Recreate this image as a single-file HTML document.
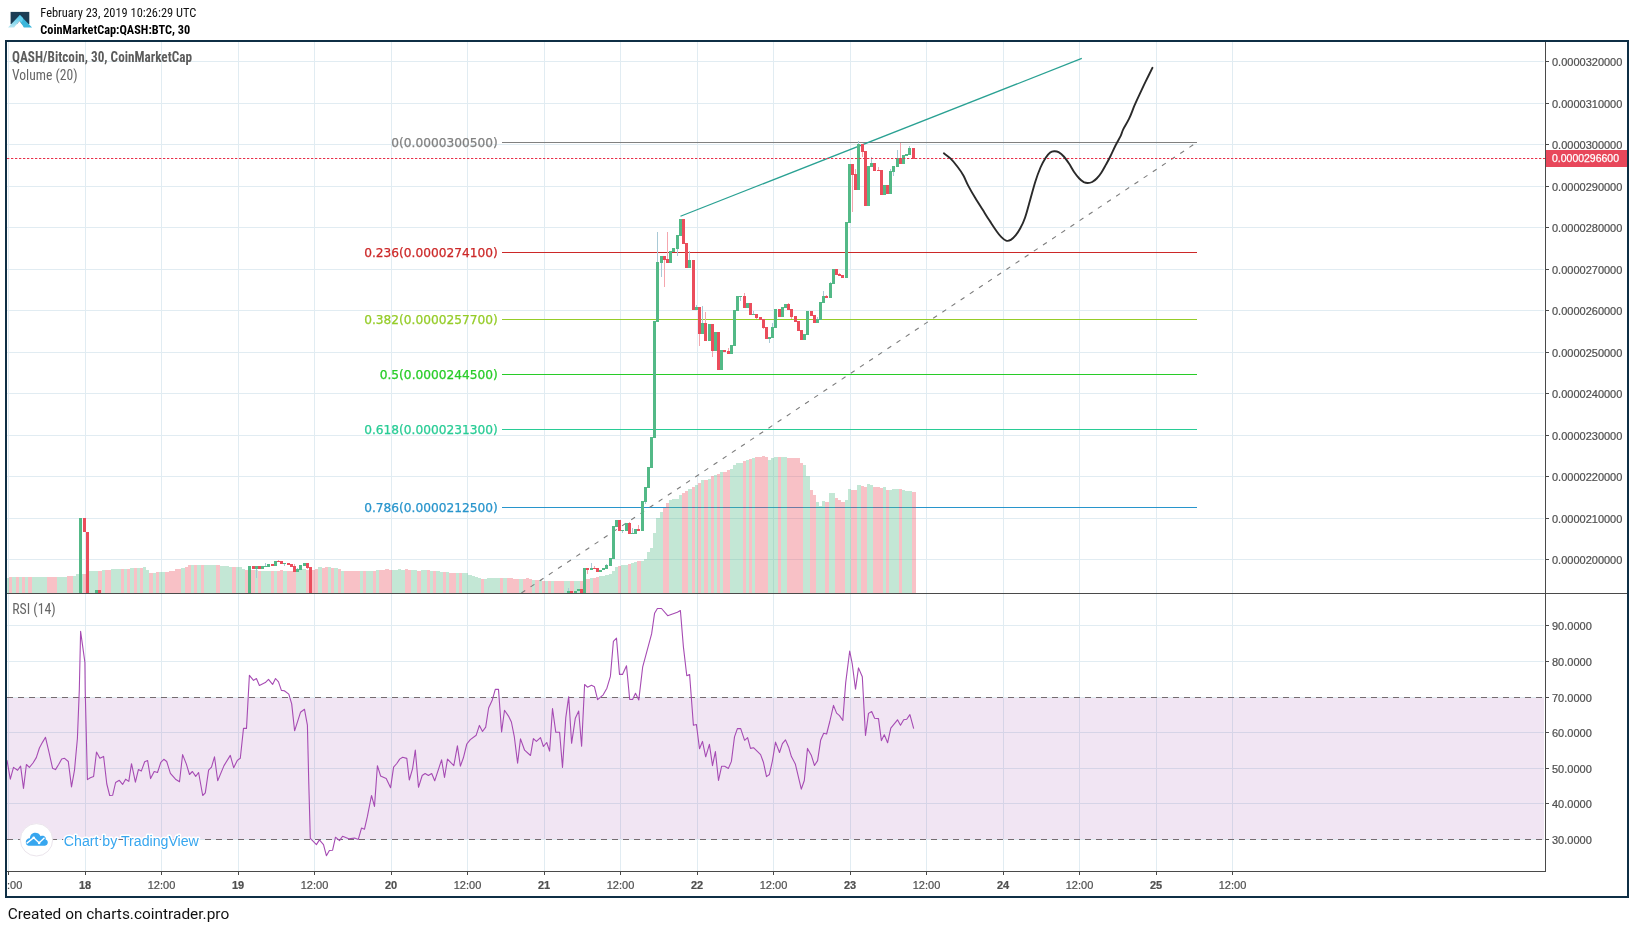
<!DOCTYPE html>
<html lang="en"><head><meta charset="utf-8"><title>QASH/Bitcoin chart</title>
<style>html,body{margin:0;padding:0;background:#fff;width:1634px;height:928px;overflow:hidden}</style></head>
<body>
<svg width="1634" height="928" viewBox="0 0 1634 928" style="position:absolute;left:0;top:0;display:block;will-change:transform">
<defs><clipPath id="cm"><rect x="7" y="42" width="1538" height="551"/></clipPath><clipPath id="cr"><rect x="7" y="594" width="1538" height="277"/></clipPath><clipPath id="ct"><rect x="7" y="872" width="1538" height="24"/></clipPath><linearGradient id="lg1" x1="0" y1="0" x2="0" y2="1"><stop offset="0" stop-color="#46c4ea"/><stop offset="1" stop-color="#b9e6f1"/></linearGradient></defs>
<rect x="0" y="0" width="1634" height="928" fill="#ffffff" />
<g id="logo">
<rect x="10.6" y="11.9" width="18.7" height="12.3" fill="#1b3d55" />
<path d="M8,27.6 L19.8,14.9 L23,18.3 L19.6,21.1 L14.2,27.6 Z" fill="url(#lg1)"/>
<path d="M19.8,14.9 L32.1,27.6 L23.7,27.6 L19.6,21.1 L21.5,19.6 Z" fill="#3bb6db"/>
<path d="M19.8,14.9 L23.2,18.4 L21.9,22.3 L19.6,21.1 Z" fill="#62d0f0"/>
<path d="M19.6,21.1 L14.2,27.6 L23.7,27.6 Z" fill="#ffffff"/>
</g>
<text x="40.3" y="17" font-family="'Roboto Condensed', 'Liberation Sans', Arial, sans-serif" font-size="12.4" fill="#111" textLength="156" lengthAdjust="spacingAndGlyphs" >February 23, 2019 10:26:29 UTC</text>
<text x="40.3" y="33.9" font-family="'Roboto Condensed', 'Liberation Sans', Arial, sans-serif" font-size="12.4" fill="#000" font-weight="bold" textLength="150" lengthAdjust="spacingAndGlyphs" >CoinMarketCap:QASH:BTC, 30</text>
<g shape-rendering="crispEdges">
<rect x="5" y="40" width="1624" height="2" fill="#0f2f45" />
<rect x="5" y="896" width="1624" height="2" fill="#0f2f45" />
<rect x="5" y="40" width="2" height="858" fill="#0f2f45" />
<rect x="1627" y="40" width="2" height="858" fill="#0f2f45" />
<rect x="8" y="42" width="1" height="551" fill="#e1ecf2" />
<rect x="8" y="594" width="1" height="277" fill="#e1ecf2" />
<rect x="85" y="42" width="1" height="551" fill="#e1ecf2" />
<rect x="85" y="594" width="1" height="277" fill="#e1ecf2" />
<rect x="161" y="42" width="1" height="551" fill="#e1ecf2" />
<rect x="161" y="594" width="1" height="277" fill="#e1ecf2" />
<rect x="238" y="42" width="1" height="551" fill="#e1ecf2" />
<rect x="238" y="594" width="1" height="277" fill="#e1ecf2" />
<rect x="314" y="42" width="1" height="551" fill="#e1ecf2" />
<rect x="314" y="594" width="1" height="277" fill="#e1ecf2" />
<rect x="391" y="42" width="1" height="551" fill="#e1ecf2" />
<rect x="391" y="594" width="1" height="277" fill="#e1ecf2" />
<rect x="467" y="42" width="1" height="551" fill="#e1ecf2" />
<rect x="467" y="594" width="1" height="277" fill="#e1ecf2" />
<rect x="544" y="42" width="1" height="551" fill="#e1ecf2" />
<rect x="544" y="594" width="1" height="277" fill="#e1ecf2" />
<rect x="620" y="42" width="1" height="551" fill="#e1ecf2" />
<rect x="620" y="594" width="1" height="277" fill="#e1ecf2" />
<rect x="697" y="42" width="1" height="551" fill="#e1ecf2" />
<rect x="697" y="594" width="1" height="277" fill="#e1ecf2" />
<rect x="773" y="42" width="1" height="551" fill="#e1ecf2" />
<rect x="773" y="594" width="1" height="277" fill="#e1ecf2" />
<rect x="850" y="42" width="1" height="551" fill="#e1ecf2" />
<rect x="850" y="594" width="1" height="277" fill="#e1ecf2" />
<rect x="926" y="42" width="1" height="551" fill="#e1ecf2" />
<rect x="926" y="594" width="1" height="277" fill="#e1ecf2" />
<rect x="1003" y="42" width="1" height="551" fill="#e1ecf2" />
<rect x="1003" y="594" width="1" height="277" fill="#e1ecf2" />
<rect x="1079" y="42" width="1" height="551" fill="#e1ecf2" />
<rect x="1079" y="594" width="1" height="277" fill="#e1ecf2" />
<rect x="1156" y="42" width="1" height="551" fill="#e1ecf2" />
<rect x="1156" y="594" width="1" height="277" fill="#e1ecf2" />
<rect x="1232" y="42" width="1" height="551" fill="#e1ecf2" />
<rect x="1232" y="594" width="1" height="277" fill="#e1ecf2" />
<rect x="7" y="61" width="1537" height="1" fill="#e1ecf2" />
<rect x="7" y="103" width="1537" height="1" fill="#e1ecf2" />
<rect x="7" y="144" width="1537" height="1" fill="#e1ecf2" />
<rect x="7" y="186" width="1537" height="1" fill="#e1ecf2" />
<rect x="7" y="227" width="1537" height="1" fill="#e1ecf2" />
<rect x="7" y="269" width="1537" height="1" fill="#e1ecf2" />
<rect x="7" y="310" width="1537" height="1" fill="#e1ecf2" />
<rect x="7" y="352" width="1537" height="1" fill="#e1ecf2" />
<rect x="7" y="393" width="1537" height="1" fill="#e1ecf2" />
<rect x="7" y="435" width="1537" height="1" fill="#e1ecf2" />
<rect x="7" y="476" width="1537" height="1" fill="#e1ecf2" />
<rect x="7" y="518" width="1537" height="1" fill="#e1ecf2" />
<rect x="7" y="559" width="1537" height="1" fill="#e1ecf2" />
<rect x="7" y="625" width="1537" height="1" fill="#e1ecf2" />
<rect x="7" y="661" width="1537" height="1" fill="#e1ecf2" />
<rect x="7" y="697" width="1537" height="1" fill="#e1ecf2" />
<rect x="7" y="732" width="1537" height="1" fill="#e1ecf2" />
<rect x="7" y="768" width="1537" height="1" fill="#e1ecf2" />
<rect x="7" y="803" width="1537" height="1" fill="#e1ecf2" />
<rect x="7" y="839" width="1537" height="1" fill="#e1ecf2" />
</g>
<g shape-rendering="crispEdges">
<rect x="502" y="142" width="695" height="1" fill="#808080" />
<rect x="502" y="252" width="695" height="1" fill="#cc2828" />
<rect x="502" y="319" width="695" height="1" fill="#95cc28" />
<rect x="502" y="374" width="695" height="1" fill="#28cc28" />
<rect x="502" y="429" width="695" height="1" fill="#28cc95" />
<rect x="502" y="507" width="695" height="1" fill="#2895cc" />
</g>
<text x="497.8" y="147" font-family="'DejaVu Sans', Verdana, sans-serif" font-size="12.2" fill="#808080" text-anchor="end" stroke="#808080" stroke-width="0.25">0(0.0000300500)</text>
<text x="497.8" y="257" font-family="'DejaVu Sans', Verdana, sans-serif" font-size="12.2" fill="#cc2828" text-anchor="end" stroke="#cc2828" stroke-width="0.25">0.236(0.0000274100)</text>
<text x="497.8" y="324" font-family="'DejaVu Sans', Verdana, sans-serif" font-size="12.2" fill="#95cc28" text-anchor="end" stroke="#95cc28" stroke-width="0.25">0.382(0.0000257700)</text>
<text x="497.8" y="379" font-family="'DejaVu Sans', Verdana, sans-serif" font-size="12.2" fill="#28cc28" text-anchor="end" stroke="#28cc28" stroke-width="0.25">0.5(0.0000244500)</text>
<text x="497.8" y="434" font-family="'DejaVu Sans', Verdana, sans-serif" font-size="12.2" fill="#28cc95" text-anchor="end" stroke="#28cc95" stroke-width="0.25">0.618(0.0000231300)</text>
<text x="497.8" y="512" font-family="'DejaVu Sans', Verdana, sans-serif" font-size="12.2" fill="#2895cc" text-anchor="end" stroke="#2895cc" stroke-width="0.25">0.786(0.0000212500)</text>
<g clip-path="url(#cm)" shape-rendering="crispEdges">
<rect x="7" y="578" width="2" height="15" fill="#53b987" fill-opacity="0.35"/>
<rect x="9" y="577" width="3" height="16" fill="#eb4d5c" fill-opacity="0.35"/>
<rect x="12" y="577" width="4" height="16" fill="#53b987" fill-opacity="0.35"/>
<rect x="16" y="577" width="3" height="16" fill="#eb4d5c" fill-opacity="0.35"/>
<rect x="19" y="577" width="3" height="16" fill="#53b987" fill-opacity="0.35"/>
<rect x="22" y="577" width="3" height="16" fill="#eb4d5c" fill-opacity="0.35"/>
<rect x="25" y="577" width="3" height="16" fill="#53b987" fill-opacity="0.35"/>
<rect x="28" y="577" width="4" height="16" fill="#eb4d5c" fill-opacity="0.35"/>
<rect x="32" y="577" width="15" height="16" fill="#53b987" fill-opacity="0.35"/>
<rect x="47" y="577" width="10" height="16" fill="#eb4d5c" fill-opacity="0.35"/>
<rect x="57" y="577" width="10" height="16" fill="#53b987" fill-opacity="0.35"/>
<rect x="67" y="576" width="6" height="17" fill="#eb4d5c" fill-opacity="0.35"/>
<rect x="73" y="576" width="3" height="17" fill="#53b987" fill-opacity="0.35"/>
<rect x="76" y="574" width="3" height="19" fill="#53b987" fill-opacity="0.35"/>
<rect x="79" y="574" width="4" height="19" fill="#53b987" fill-opacity="0.35"/>
<rect x="83" y="574" width="3" height="19" fill="#eb4d5c" fill-opacity="0.35"/>
<rect x="86" y="573" width="3" height="20" fill="#eb4d5c" fill-opacity="0.35"/>
<rect x="89" y="571" width="9" height="22" fill="#53b987" fill-opacity="0.35"/>
<rect x="98" y="571" width="4" height="22" fill="#eb4d5c" fill-opacity="0.35"/>
<rect x="102" y="570" width="3" height="23" fill="#53b987" fill-opacity="0.35"/>
<rect x="105" y="570" width="6" height="23" fill="#eb4d5c" fill-opacity="0.35"/>
<rect x="111" y="569" width="10" height="24" fill="#53b987" fill-opacity="0.35"/>
<rect x="121" y="569" width="3" height="24" fill="#eb4d5c" fill-opacity="0.35"/>
<rect x="124" y="569" width="3" height="24" fill="#53b987" fill-opacity="0.35"/>
<rect x="127" y="569" width="3" height="24" fill="#eb4d5c" fill-opacity="0.35"/>
<rect x="130" y="568" width="4" height="25" fill="#53b987" fill-opacity="0.35"/>
<rect x="134" y="568" width="3" height="25" fill="#eb4d5c" fill-opacity="0.35"/>
<rect x="137" y="568" width="3" height="25" fill="#53b987" fill-opacity="0.35"/>
<rect x="140" y="568" width="3" height="25" fill="#eb4d5c" fill-opacity="0.35"/>
<rect x="143" y="567" width="3" height="26" fill="#53b987" fill-opacity="0.35"/>
<rect x="146" y="570" width="3" height="23" fill="#53b987" fill-opacity="0.35"/>
<rect x="149" y="573" width="4" height="20" fill="#eb4d5c" fill-opacity="0.35"/>
<rect x="153" y="573" width="3" height="20" fill="#53b987" fill-opacity="0.35"/>
<rect x="156" y="572" width="3" height="21" fill="#eb4d5c" fill-opacity="0.35"/>
<rect x="159" y="572" width="6" height="21" fill="#53b987" fill-opacity="0.35"/>
<rect x="165" y="572" width="4" height="21" fill="#eb4d5c" fill-opacity="0.35"/>
<rect x="169" y="571" width="6" height="22" fill="#eb4d5c" fill-opacity="0.35"/>
<rect x="175" y="569" width="6" height="24" fill="#eb4d5c" fill-opacity="0.35"/>
<rect x="181" y="568" width="4" height="25" fill="#53b987" fill-opacity="0.35"/>
<rect x="185" y="567" width="3" height="26" fill="#eb4d5c" fill-opacity="0.35"/>
<rect x="188" y="565" width="3" height="28" fill="#eb4d5c" fill-opacity="0.35"/>
<rect x="191" y="565" width="3" height="28" fill="#53b987" fill-opacity="0.35"/>
<rect x="194" y="565" width="3" height="28" fill="#eb4d5c" fill-opacity="0.35"/>
<rect x="197" y="565" width="4" height="28" fill="#53b987" fill-opacity="0.35"/>
<rect x="201" y="565" width="3" height="28" fill="#eb4d5c" fill-opacity="0.35"/>
<rect x="204" y="565" width="12" height="28" fill="#53b987" fill-opacity="0.35"/>
<rect x="216" y="565" width="4" height="28" fill="#eb4d5c" fill-opacity="0.35"/>
<rect x="220" y="566" width="9" height="27" fill="#53b987" fill-opacity="0.35"/>
<rect x="229" y="567" width="3" height="26" fill="#53b987" fill-opacity="0.35"/>
<rect x="232" y="567" width="4" height="26" fill="#eb4d5c" fill-opacity="0.35"/>
<rect x="236" y="567" width="6" height="26" fill="#53b987" fill-opacity="0.35"/>
<rect x="242" y="569" width="3" height="24" fill="#53b987" fill-opacity="0.35"/>
<rect x="245" y="570" width="3" height="23" fill="#eb4d5c" fill-opacity="0.35"/>
<rect x="248" y="570" width="3" height="23" fill="#53b987" fill-opacity="0.35"/>
<rect x="251" y="570" width="4" height="23" fill="#eb4d5c" fill-opacity="0.35"/>
<rect x="255" y="570" width="3" height="23" fill="#53b987" fill-opacity="0.35"/>
<rect x="258" y="571" width="3" height="22" fill="#eb4d5c" fill-opacity="0.35"/>
<rect x="261" y="571" width="10" height="22" fill="#53b987" fill-opacity="0.35"/>
<rect x="271" y="571" width="3" height="22" fill="#eb4d5c" fill-opacity="0.35"/>
<rect x="274" y="571" width="3" height="22" fill="#53b987" fill-opacity="0.35"/>
<rect x="277" y="571" width="3" height="22" fill="#eb4d5c" fill-opacity="0.35"/>
<rect x="280" y="570" width="3" height="23" fill="#eb4d5c" fill-opacity="0.35"/>
<rect x="283" y="571" width="4" height="22" fill="#53b987" fill-opacity="0.35"/>
<rect x="287" y="571" width="9" height="22" fill="#eb4d5c" fill-opacity="0.35"/>
<rect x="296" y="571" width="3" height="22" fill="#53b987" fill-opacity="0.35"/>
<rect x="299" y="569" width="7" height="24" fill="#53b987" fill-opacity="0.35"/>
<rect x="306" y="570" width="3" height="23" fill="#eb4d5c" fill-opacity="0.35"/>
<rect x="309" y="570" width="3" height="23" fill="#eb4d5c" fill-opacity="0.35"/>
<rect x="312" y="570" width="3" height="23" fill="#eb4d5c" fill-opacity="0.35"/>
<rect x="315" y="569" width="3" height="24" fill="#eb4d5c" fill-opacity="0.35"/>
<rect x="318" y="567" width="4" height="26" fill="#53b987" fill-opacity="0.35"/>
<rect x="322" y="568" width="3" height="25" fill="#eb4d5c" fill-opacity="0.35"/>
<rect x="325" y="567" width="3" height="26" fill="#eb4d5c" fill-opacity="0.35"/>
<rect x="328" y="567" width="3" height="26" fill="#53b987" fill-opacity="0.35"/>
<rect x="331" y="568" width="3" height="25" fill="#eb4d5c" fill-opacity="0.35"/>
<rect x="334" y="568" width="4" height="25" fill="#53b987" fill-opacity="0.35"/>
<rect x="338" y="569" width="3" height="24" fill="#eb4d5c" fill-opacity="0.35"/>
<rect x="341" y="571" width="3" height="22" fill="#53b987" fill-opacity="0.35"/>
<rect x="344" y="571" width="16" height="22" fill="#eb4d5c" fill-opacity="0.35"/>
<rect x="360" y="571" width="3" height="22" fill="#53b987" fill-opacity="0.35"/>
<rect x="363" y="571" width="3" height="22" fill="#eb4d5c" fill-opacity="0.35"/>
<rect x="366" y="571" width="7" height="22" fill="#53b987" fill-opacity="0.35"/>
<rect x="373" y="571" width="3" height="22" fill="#eb4d5c" fill-opacity="0.35"/>
<rect x="376" y="570" width="3" height="23" fill="#53b987" fill-opacity="0.35"/>
<rect x="379" y="570" width="6" height="23" fill="#eb4d5c" fill-opacity="0.35"/>
<rect x="385" y="569" width="4" height="24" fill="#eb4d5c" fill-opacity="0.35"/>
<rect x="389" y="570" width="3" height="23" fill="#eb4d5c" fill-opacity="0.35"/>
<rect x="392" y="570" width="6" height="23" fill="#53b987" fill-opacity="0.35"/>
<rect x="398" y="569" width="3" height="24" fill="#53b987" fill-opacity="0.35"/>
<rect x="401" y="570" width="4" height="23" fill="#53b987" fill-opacity="0.35"/>
<rect x="405" y="569" width="3" height="24" fill="#eb4d5c" fill-opacity="0.35"/>
<rect x="408" y="570" width="3" height="23" fill="#eb4d5c" fill-opacity="0.35"/>
<rect x="411" y="570" width="6" height="23" fill="#53b987" fill-opacity="0.35"/>
<rect x="417" y="571" width="4" height="22" fill="#eb4d5c" fill-opacity="0.35"/>
<rect x="421" y="570" width="6" height="23" fill="#53b987" fill-opacity="0.35"/>
<rect x="427" y="570" width="3" height="23" fill="#eb4d5c" fill-opacity="0.35"/>
<rect x="430" y="571" width="3" height="22" fill="#53b987" fill-opacity="0.35"/>
<rect x="433" y="571" width="3" height="22" fill="#eb4d5c" fill-opacity="0.35"/>
<rect x="436" y="571" width="4" height="22" fill="#53b987" fill-opacity="0.35"/>
<rect x="440" y="572" width="3" height="21" fill="#53b987" fill-opacity="0.35"/>
<rect x="443" y="572" width="3" height="21" fill="#eb4d5c" fill-opacity="0.35"/>
<rect x="446" y="572" width="3" height="21" fill="#53b987" fill-opacity="0.35"/>
<rect x="449" y="573" width="7" height="20" fill="#eb4d5c" fill-opacity="0.35"/>
<rect x="456" y="573" width="3" height="20" fill="#53b987" fill-opacity="0.35"/>
<rect x="459" y="573" width="3" height="20" fill="#eb4d5c" fill-opacity="0.35"/>
<rect x="462" y="573" width="6" height="20" fill="#53b987" fill-opacity="0.35"/>
<rect x="468" y="575" width="4" height="18" fill="#53b987" fill-opacity="0.35"/>
<rect x="472" y="576" width="3" height="17" fill="#53b987" fill-opacity="0.35"/>
<rect x="475" y="577" width="3" height="16" fill="#53b987" fill-opacity="0.35"/>
<rect x="478" y="578" width="3" height="15" fill="#53b987" fill-opacity="0.35"/>
<rect x="481" y="579" width="3" height="14" fill="#eb4d5c" fill-opacity="0.35"/>
<rect x="484" y="579" width="3" height="14" fill="#53b987" fill-opacity="0.35"/>
<rect x="487" y="578" width="13" height="15" fill="#53b987" fill-opacity="0.35"/>
<rect x="500" y="578" width="3" height="15" fill="#eb4d5c" fill-opacity="0.35"/>
<rect x="503" y="578" width="4" height="15" fill="#53b987" fill-opacity="0.35"/>
<rect x="507" y="578" width="6" height="15" fill="#eb4d5c" fill-opacity="0.35"/>
<rect x="513" y="579" width="6" height="14" fill="#eb4d5c" fill-opacity="0.35"/>
<rect x="519" y="579" width="4" height="14" fill="#53b987" fill-opacity="0.35"/>
<rect x="523" y="579" width="3" height="14" fill="#eb4d5c" fill-opacity="0.35"/>
<rect x="526" y="578" width="3" height="15" fill="#eb4d5c" fill-opacity="0.35"/>
<rect x="529" y="579" width="3" height="14" fill="#eb4d5c" fill-opacity="0.35"/>
<rect x="532" y="580" width="3" height="13" fill="#53b987" fill-opacity="0.35"/>
<rect x="535" y="580" width="4" height="13" fill="#eb4d5c" fill-opacity="0.35"/>
<rect x="539" y="580" width="3" height="13" fill="#53b987" fill-opacity="0.35"/>
<rect x="542" y="581" width="3" height="12" fill="#eb4d5c" fill-opacity="0.35"/>
<rect x="545" y="581" width="3" height="12" fill="#53b987" fill-opacity="0.35"/>
<rect x="548" y="581" width="3" height="12" fill="#eb4d5c" fill-opacity="0.35"/>
<rect x="551" y="581" width="3" height="12" fill="#53b987" fill-opacity="0.35"/>
<rect x="554" y="581" width="10" height="12" fill="#eb4d5c" fill-opacity="0.35"/>
<rect x="564" y="581" width="3" height="12" fill="#53b987" fill-opacity="0.35"/>
<rect x="567" y="581" width="3" height="12" fill="#53b987" fill-opacity="0.35"/>
<rect x="570" y="581" width="4" height="12" fill="#eb4d5c" fill-opacity="0.35"/>
<rect x="574" y="581" width="3" height="12" fill="#53b987" fill-opacity="0.35"/>
<rect x="577" y="581" width="3" height="12" fill="#53b987" fill-opacity="0.35"/>
<rect x="580" y="581" width="3" height="12" fill="#eb4d5c" fill-opacity="0.35"/>
<rect x="583" y="581" width="3" height="12" fill="#53b987" fill-opacity="0.35"/>
<rect x="586" y="579" width="4" height="14" fill="#eb4d5c" fill-opacity="0.35"/>
<rect x="590" y="578" width="3" height="15" fill="#53b987" fill-opacity="0.35"/>
<rect x="593" y="578" width="3" height="15" fill="#eb4d5c" fill-opacity="0.35"/>
<rect x="596" y="577" width="3" height="16" fill="#eb4d5c" fill-opacity="0.35"/>
<rect x="599" y="576" width="3" height="17" fill="#53b987" fill-opacity="0.35"/>
<rect x="602" y="576" width="3" height="17" fill="#53b987" fill-opacity="0.35"/>
<rect x="605" y="575" width="4" height="18" fill="#53b987" fill-opacity="0.35"/>
<rect x="609" y="574" width="3" height="19" fill="#53b987" fill-opacity="0.35"/>
<rect x="612" y="571" width="3" height="22" fill="#53b987" fill-opacity="0.35"/>
<rect x="615" y="567" width="3" height="26" fill="#53b987" fill-opacity="0.35"/>
<rect x="618" y="566" width="3" height="27" fill="#eb4d5c" fill-opacity="0.35"/>
<rect x="621" y="565" width="4" height="28" fill="#53b987" fill-opacity="0.35"/>
<rect x="625" y="565" width="3" height="28" fill="#53b987" fill-opacity="0.35"/>
<rect x="628" y="564" width="3" height="29" fill="#eb4d5c" fill-opacity="0.35"/>
<rect x="631" y="563" width="3" height="30" fill="#53b987" fill-opacity="0.35"/>
<rect x="634" y="562" width="3" height="31" fill="#53b987" fill-opacity="0.35"/>
<rect x="637" y="561" width="4" height="32" fill="#eb4d5c" fill-opacity="0.35"/>
<rect x="641" y="561" width="3" height="32" fill="#53b987" fill-opacity="0.35"/>
<rect x="644" y="559" width="3" height="34" fill="#53b987" fill-opacity="0.35"/>
<rect x="647" y="552" width="3" height="41" fill="#53b987" fill-opacity="0.35"/>
<rect x="650" y="548" width="3" height="45" fill="#53b987" fill-opacity="0.35"/>
<rect x="653" y="533" width="3" height="60" fill="#53b987" fill-opacity="0.35"/>
<rect x="656" y="518" width="4" height="75" fill="#53b987" fill-opacity="0.35"/>
<rect x="660" y="512" width="3" height="81" fill="#53b987" fill-opacity="0.35"/>
<rect x="663" y="508" width="3" height="85" fill="#eb4d5c" fill-opacity="0.35"/>
<rect x="666" y="503" width="3" height="90" fill="#eb4d5c" fill-opacity="0.35"/>
<rect x="669" y="500" width="3" height="93" fill="#53b987" fill-opacity="0.35"/>
<rect x="672" y="499" width="4" height="94" fill="#53b987" fill-opacity="0.35"/>
<rect x="676" y="499" width="3" height="94" fill="#53b987" fill-opacity="0.35"/>
<rect x="679" y="495" width="3" height="98" fill="#53b987" fill-opacity="0.35"/>
<rect x="682" y="493" width="3" height="100" fill="#eb4d5c" fill-opacity="0.35"/>
<rect x="685" y="491" width="3" height="102" fill="#eb4d5c" fill-opacity="0.35"/>
<rect x="688" y="489" width="4" height="104" fill="#53b987" fill-opacity="0.35"/>
<rect x="692" y="487" width="3" height="106" fill="#eb4d5c" fill-opacity="0.35"/>
<rect x="695" y="485" width="3" height="108" fill="#53b987" fill-opacity="0.35"/>
<rect x="698" y="483" width="3" height="110" fill="#eb4d5c" fill-opacity="0.35"/>
<rect x="701" y="480" width="3" height="113" fill="#53b987" fill-opacity="0.35"/>
<rect x="704" y="480" width="4" height="113" fill="#eb4d5c" fill-opacity="0.35"/>
<rect x="708" y="479" width="3" height="114" fill="#53b987" fill-opacity="0.35"/>
<rect x="711" y="476" width="3" height="117" fill="#eb4d5c" fill-opacity="0.35"/>
<rect x="714" y="475" width="3" height="118" fill="#53b987" fill-opacity="0.35"/>
<rect x="717" y="474" width="3" height="119" fill="#eb4d5c" fill-opacity="0.35"/>
<rect x="720" y="472" width="3" height="121" fill="#53b987" fill-opacity="0.35"/>
<rect x="723" y="472" width="4" height="121" fill="#eb4d5c" fill-opacity="0.35"/>
<rect x="727" y="470" width="3" height="123" fill="#eb4d5c" fill-opacity="0.35"/>
<rect x="730" y="469" width="3" height="124" fill="#53b987" fill-opacity="0.35"/>
<rect x="733" y="465" width="3" height="128" fill="#53b987" fill-opacity="0.35"/>
<rect x="736" y="463" width="3" height="130" fill="#53b987" fill-opacity="0.35"/>
<rect x="739" y="463" width="4" height="130" fill="#53b987" fill-opacity="0.35"/>
<rect x="743" y="461" width="3" height="132" fill="#eb4d5c" fill-opacity="0.35"/>
<rect x="746" y="460" width="3" height="133" fill="#53b987" fill-opacity="0.35"/>
<rect x="749" y="459" width="3" height="134" fill="#eb4d5c" fill-opacity="0.35"/>
<rect x="752" y="458" width="3" height="135" fill="#53b987" fill-opacity="0.35"/>
<rect x="755" y="457" width="4" height="136" fill="#eb4d5c" fill-opacity="0.35"/>
<rect x="759" y="457" width="3" height="136" fill="#eb4d5c" fill-opacity="0.35"/>
<rect x="762" y="456" width="3" height="137" fill="#eb4d5c" fill-opacity="0.35"/>
<rect x="765" y="457" width="3" height="136" fill="#eb4d5c" fill-opacity="0.35"/>
<rect x="768" y="460" width="3" height="133" fill="#53b987" fill-opacity="0.35"/>
<rect x="771" y="458" width="3" height="135" fill="#53b987" fill-opacity="0.35"/>
<rect x="774" y="457" width="4" height="136" fill="#53b987" fill-opacity="0.35"/>
<rect x="778" y="457" width="3" height="136" fill="#eb4d5c" fill-opacity="0.35"/>
<rect x="781" y="457" width="3" height="136" fill="#53b987" fill-opacity="0.35"/>
<rect x="784" y="457" width="3" height="136" fill="#53b987" fill-opacity="0.35"/>
<rect x="787" y="458" width="3" height="135" fill="#eb4d5c" fill-opacity="0.35"/>
<rect x="790" y="458" width="4" height="135" fill="#eb4d5c" fill-opacity="0.35"/>
<rect x="794" y="458" width="3" height="135" fill="#eb4d5c" fill-opacity="0.35"/>
<rect x="797" y="458" width="3" height="135" fill="#eb4d5c" fill-opacity="0.35"/>
<rect x="800" y="463" width="3" height="130" fill="#eb4d5c" fill-opacity="0.35"/>
<rect x="803" y="465" width="3" height="128" fill="#53b987" fill-opacity="0.35"/>
<rect x="806" y="476" width="4" height="117" fill="#53b987" fill-opacity="0.35"/>
<rect x="810" y="490" width="3" height="103" fill="#eb4d5c" fill-opacity="0.35"/>
<rect x="813" y="495" width="3" height="98" fill="#eb4d5c" fill-opacity="0.35"/>
<rect x="816" y="502" width="3" height="91" fill="#53b987" fill-opacity="0.35"/>
<rect x="819" y="506" width="3" height="87" fill="#53b987" fill-opacity="0.35"/>
<rect x="822" y="501" width="3" height="92" fill="#53b987" fill-opacity="0.35"/>
<rect x="825" y="502" width="4" height="91" fill="#eb4d5c" fill-opacity="0.35"/>
<rect x="829" y="493" width="3" height="100" fill="#53b987" fill-opacity="0.35"/>
<rect x="832" y="493" width="3" height="100" fill="#53b987" fill-opacity="0.35"/>
<rect x="835" y="498" width="3" height="95" fill="#eb4d5c" fill-opacity="0.35"/>
<rect x="838" y="500" width="3" height="93" fill="#eb4d5c" fill-opacity="0.35"/>
<rect x="841" y="502" width="4" height="91" fill="#eb4d5c" fill-opacity="0.35"/>
<rect x="845" y="500" width="3" height="93" fill="#53b987" fill-opacity="0.35"/>
<rect x="848" y="489" width="3" height="104" fill="#53b987" fill-opacity="0.35"/>
<rect x="851" y="490" width="3" height="103" fill="#eb4d5c" fill-opacity="0.35"/>
<rect x="854" y="490" width="3" height="103" fill="#eb4d5c" fill-opacity="0.35"/>
<rect x="857" y="485" width="4" height="108" fill="#53b987" fill-opacity="0.35"/>
<rect x="861" y="486" width="3" height="107" fill="#eb4d5c" fill-opacity="0.35"/>
<rect x="864" y="487" width="3" height="106" fill="#eb4d5c" fill-opacity="0.35"/>
<rect x="867" y="484" width="3" height="109" fill="#53b987" fill-opacity="0.35"/>
<rect x="870" y="485" width="3" height="108" fill="#53b987" fill-opacity="0.35"/>
<rect x="873" y="487" width="4" height="106" fill="#eb4d5c" fill-opacity="0.35"/>
<rect x="877" y="487" width="3" height="106" fill="#eb4d5c" fill-opacity="0.35"/>
<rect x="880" y="488" width="3" height="105" fill="#eb4d5c" fill-opacity="0.35"/>
<rect x="883" y="487" width="3" height="106" fill="#53b987" fill-opacity="0.35"/>
<rect x="886" y="490" width="3" height="103" fill="#eb4d5c" fill-opacity="0.35"/>
<rect x="889" y="490" width="3" height="103" fill="#53b987" fill-opacity="0.35"/>
<rect x="892" y="489" width="4" height="104" fill="#53b987" fill-opacity="0.35"/>
<rect x="896" y="489" width="3" height="104" fill="#53b987" fill-opacity="0.35"/>
<rect x="899" y="489" width="3" height="104" fill="#eb4d5c" fill-opacity="0.35"/>
<rect x="902" y="490" width="3" height="103" fill="#53b987" fill-opacity="0.35"/>
<rect x="905" y="491" width="3" height="102" fill="#53b987" fill-opacity="0.35"/>
<rect x="908" y="491" width="4" height="102" fill="#53b987" fill-opacity="0.35"/>
<rect x="912" y="492" width="4" height="101" fill="#eb4d5c" fill-opacity="0.35"/>
</g>
<g clip-path="url(#cm)">
<line x1="680.5" y1="216.3" x2="1081.8" y2="58.4" stroke="#2aa193" stroke-width="1.2"/>
<line x1="521.4" y1="593" x2="1195.5" y2="143.3" stroke="#7d7d7d" stroke-width="1.1" stroke-dasharray="4.6 6.4" stroke-dashoffset="0"/>
</g>
<g clip-path="url(#cm)" shape-rendering="crispEdges">
<rect x="79" y="518" width="3" height="75" fill="#53b987" />
<rect x="83" y="518" width="3" height="14" fill="#eb4d5c" />
<rect x="86" y="532" width="3" height="61" fill="#eb4d5c" />
<rect x="95" y="590" width="3" height="3" fill="#53b987" />
<rect x="98" y="590" width="3" height="3" fill="#eb4d5c" />
<rect x="248" y="566" width="3" height="27" fill="#53b987" />
<rect x="252" y="566" width="3" height="3" fill="#eb4d5c" />
<rect x="256" y="569" width="1" height="9" fill="#a9c9d6" />
<rect x="255" y="566" width="3" height="3" fill="#53b987" />
<rect x="258" y="566" width="3" height="3" fill="#eb4d5c" />
<rect x="261" y="566" width="3" height="3" fill="#53b987" />
<rect x="265" y="563" width="1" height="3" fill="#a9c9d6" />
<rect x="264" y="566" width="3" height="1" fill="#53b987" />
<rect x="267" y="564" width="3" height="3" fill="#53b987" />
<rect x="271" y="564" width="3" height="2" fill="#eb4d5c" />
<rect x="274" y="561" width="3" height="5" fill="#53b987" />
<rect x="278" y="560" width="1" height="1" fill="#f5a6ae" />
<rect x="277" y="561" width="3" height="1" fill="#eb4d5c" />
<rect x="280" y="561" width="3" height="3" fill="#eb4d5c" />
<rect x="284" y="564" width="1" height="2" fill="#a9c9d6" />
<rect x="283" y="563" width="3" height="1" fill="#53b987" />
<rect x="287" y="563" width="3" height="2" fill="#eb4d5c" />
<rect x="290" y="564" width="3" height="3" fill="#eb4d5c" />
<rect x="294" y="564" width="1" height="2" fill="#f5a6ae" />
<rect x="293" y="566" width="3" height="6" fill="#eb4d5c" />
<rect x="297" y="568" width="1" height="1" fill="#a9c9d6" />
<rect x="296" y="569" width="3" height="3" fill="#53b987" />
<rect x="299" y="565" width="3" height="5" fill="#53b987" />
<rect x="303" y="563" width="3" height="3" fill="#53b987" />
<rect x="307" y="568" width="1" height="1" fill="#f5a6ae" />
<rect x="306" y="563" width="3" height="5" fill="#eb4d5c" />
<rect x="309" y="567" width="3" height="26" fill="#eb4d5c" />
<rect x="568" y="588" width="1" height="3" fill="#a9c9d6" />
<rect x="567" y="591" width="3" height="2" fill="#53b987" />
<rect x="570" y="591" width="3" height="2" fill="#eb4d5c" />
<rect x="574" y="591" width="3" height="2" fill="#53b987" />
<rect x="577" y="589" width="3" height="2" fill="#53b987" />
<rect x="580" y="589" width="3" height="4" fill="#eb4d5c" />
<rect x="583" y="568" width="3" height="25" fill="#53b987" />
<rect x="587" y="570" width="1" height="4" fill="#f5a6ae" />
<rect x="586" y="568" width="3" height="2" fill="#eb4d5c" />
<rect x="591" y="563" width="1" height="5" fill="#a9c9d6" />
<rect x="590" y="568" width="3" height="2" fill="#53b987" />
<rect x="594" y="566" width="1" height="2" fill="#f5a6ae" />
<rect x="593" y="568" width="3" height="1" fill="#eb4d5c" />
<rect x="596" y="568" width="3" height="4" fill="#eb4d5c" />
<rect x="599" y="570" width="3" height="2" fill="#53b987" />
<rect x="602" y="568" width="3" height="2" fill="#53b987" />
<rect x="606" y="564" width="1" height="1" fill="#a9c9d6" />
<rect x="605" y="565" width="3" height="4" fill="#53b987" />
<rect x="609" y="558" width="3" height="8" fill="#53b987" />
<rect x="612" y="526" width="3" height="33" fill="#53b987" />
<rect x="615" y="520" width="3" height="7" fill="#53b987" />
<rect x="618" y="520" width="3" height="11" fill="#eb4d5c" />
<rect x="622" y="531" width="1" height="2" fill="#a9c9d6" />
<rect x="621" y="530" width="3" height="1" fill="#53b987" />
<rect x="625" y="523" width="3" height="8" fill="#53b987" />
<rect x="629" y="522" width="1" height="1" fill="#f5a6ae" />
<rect x="628" y="523" width="3" height="11" fill="#eb4d5c" />
<rect x="632" y="528" width="1" height="5" fill="#a9c9d6" />
<rect x="631" y="533" width="3" height="1" fill="#53b987" />
<rect x="634" y="529" width="3" height="5" fill="#53b987" />
<rect x="638" y="525" width="1" height="4" fill="#f5a6ae" />
<rect x="637" y="529" width="3" height="2" fill="#eb4d5c" />
<rect x="641" y="501" width="3" height="30" fill="#53b987" />
<rect x="645" y="502" width="1" height="2" fill="#a9c9d6" />
<rect x="644" y="487" width="3" height="15" fill="#53b987" />
<rect x="647" y="467" width="3" height="21" fill="#53b987" />
<rect x="650" y="437" width="3" height="31" fill="#53b987" />
<rect x="653" y="321" width="3" height="117" fill="#53b987" />
<rect x="657" y="232" width="1" height="30" fill="#a9c9d6" />
<rect x="656" y="262" width="3" height="60" fill="#53b987" />
<rect x="661" y="263" width="1" height="14" fill="#a9c9d6" />
<rect x="660" y="256" width="3" height="7" fill="#53b987" />
<rect x="664" y="260" width="1" height="27" fill="#f5a6ae" />
<rect x="663" y="256" width="3" height="4" fill="#eb4d5c" />
<rect x="667" y="232" width="1" height="27" fill="#f5a6ae" />
<rect x="666" y="259" width="3" height="4" fill="#eb4d5c" />
<rect x="669" y="251" width="3" height="12" fill="#53b987" />
<rect x="672" y="248" width="3" height="4" fill="#53b987" />
<rect x="677" y="249" width="1" height="7" fill="#a9c9d6" />
<rect x="676" y="235" width="3" height="14" fill="#53b987" />
<rect x="679" y="219" width="3" height="17" fill="#53b987" />
<rect x="682" y="219" width="3" height="25" fill="#eb4d5c" />
<rect x="685" y="243" width="3" height="25" fill="#eb4d5c" />
<rect x="689" y="251" width="1" height="9" fill="#a9c9d6" />
<rect x="688" y="260" width="3" height="8" fill="#53b987" />
<rect x="692" y="260" width="3" height="50" fill="#eb4d5c" />
<rect x="696" y="305" width="1" height="2" fill="#a9c9d6" />
<rect x="695" y="307" width="3" height="3" fill="#53b987" />
<rect x="699" y="334" width="1" height="12" fill="#f5a6ae" />
<rect x="698" y="307" width="3" height="27" fill="#eb4d5c" />
<rect x="702" y="306" width="1" height="17" fill="#a9c9d6" />
<rect x="701" y="323" width="3" height="11" fill="#53b987" />
<rect x="705" y="312" width="1" height="11" fill="#f5a6ae" />
<rect x="704" y="323" width="3" height="18" fill="#eb4d5c" />
<rect x="708" y="324" width="3" height="17" fill="#53b987" />
<rect x="712" y="351" width="1" height="6" fill="#f5a6ae" />
<rect x="711" y="324" width="3" height="27" fill="#eb4d5c" />
<rect x="714" y="332" width="3" height="19" fill="#53b987" />
<rect x="717" y="332" width="3" height="38" fill="#eb4d5c" />
<rect x="720" y="350" width="3" height="20" fill="#53b987" />
<rect x="723" y="350" width="3" height="2" fill="#eb4d5c" />
<rect x="728" y="348" width="1" height="3" fill="#f5a6ae" />
<rect x="727" y="351" width="3" height="3" fill="#eb4d5c" />
<rect x="730" y="345" width="3" height="9" fill="#53b987" />
<rect x="733" y="310" width="3" height="36" fill="#53b987" />
<rect x="736" y="296" width="3" height="15" fill="#53b987" />
<rect x="740" y="297" width="1" height="4" fill="#a9c9d6" />
<rect x="739" y="296" width="3" height="1" fill="#53b987" />
<rect x="744" y="293" width="1" height="3" fill="#f5a6ae" />
<rect x="743" y="296" width="3" height="12" fill="#eb4d5c" />
<rect x="746" y="303" width="3" height="5" fill="#53b987" />
<rect x="749" y="303" width="3" height="12" fill="#eb4d5c" />
<rect x="753" y="311" width="1" height="3" fill="#a9c9d6" />
<rect x="752" y="314" width="3" height="1" fill="#53b987" />
<rect x="756" y="318" width="1" height="1" fill="#f5a6ae" />
<rect x="755" y="314" width="3" height="4" fill="#eb4d5c" />
<rect x="759" y="317" width="3" height="3" fill="#eb4d5c" />
<rect x="763" y="328" width="1" height="1" fill="#f5a6ae" />
<rect x="762" y="319" width="3" height="9" fill="#eb4d5c" />
<rect x="765" y="327" width="3" height="12" fill="#eb4d5c" />
<rect x="769" y="339" width="1" height="4" fill="#a9c9d6" />
<rect x="768" y="337" width="3" height="2" fill="#53b987" />
<rect x="772" y="323" width="1" height="4" fill="#a9c9d6" />
<rect x="771" y="327" width="3" height="11" fill="#53b987" />
<rect x="774" y="309" width="3" height="19" fill="#53b987" />
<rect x="778" y="309" width="3" height="8" fill="#eb4d5c" />
<rect x="781" y="307" width="3" height="10" fill="#53b987" />
<rect x="784" y="304" width="3" height="4" fill="#53b987" />
<rect x="788" y="303" width="1" height="1" fill="#f5a6ae" />
<rect x="787" y="304" width="3" height="6" fill="#eb4d5c" />
<rect x="791" y="317" width="1" height="2" fill="#f5a6ae" />
<rect x="790" y="309" width="3" height="8" fill="#eb4d5c" />
<rect x="794" y="316" width="3" height="6" fill="#eb4d5c" />
<rect x="797" y="321" width="3" height="10" fill="#eb4d5c" />
<rect x="800" y="330" width="3" height="10" fill="#eb4d5c" />
<rect x="803" y="334" width="3" height="6" fill="#53b987" />
<rect x="806" y="311" width="3" height="24" fill="#53b987" />
<rect x="810" y="311" width="3" height="5" fill="#eb4d5c" />
<rect x="813" y="315" width="3" height="8" fill="#eb4d5c" />
<rect x="817" y="317" width="1" height="2" fill="#a9c9d6" />
<rect x="816" y="319" width="3" height="4" fill="#53b987" />
<rect x="819" y="302" width="3" height="18" fill="#53b987" />
<rect x="823" y="291" width="1" height="5" fill="#a9c9d6" />
<rect x="822" y="296" width="3" height="7" fill="#53b987" />
<rect x="826" y="295" width="1" height="1" fill="#f5a6ae" />
<rect x="825" y="296" width="3" height="2" fill="#eb4d5c" />
<rect x="830" y="282" width="1" height="1" fill="#a9c9d6" />
<rect x="829" y="283" width="3" height="15" fill="#53b987" />
<rect x="832" y="269" width="3" height="15" fill="#53b987" />
<rect x="835" y="269" width="3" height="6" fill="#eb4d5c" />
<rect x="839" y="273" width="1" height="1" fill="#f5a6ae" />
<rect x="838" y="274" width="3" height="2" fill="#eb4d5c" />
<rect x="841" y="275" width="3" height="3" fill="#eb4d5c" />
<rect x="845" y="222" width="3" height="56" fill="#53b987" />
<rect x="848" y="164" width="3" height="59" fill="#53b987" />
<rect x="852" y="175" width="1" height="37" fill="#f5a6ae" />
<rect x="851" y="164" width="3" height="11" fill="#eb4d5c" />
<rect x="855" y="169" width="1" height="5" fill="#f5a6ae" />
<rect x="854" y="174" width="3" height="16" fill="#eb4d5c" />
<rect x="858" y="141" width="1" height="3" fill="#a9c9d6" />
<rect x="857" y="144" width="3" height="46" fill="#53b987" />
<rect x="862" y="152" width="1" height="5" fill="#f5a6ae" />
<rect x="861" y="144" width="3" height="8" fill="#eb4d5c" />
<rect x="864" y="151" width="3" height="55" fill="#eb4d5c" />
<rect x="867" y="166" width="3" height="40" fill="#53b987" />
<rect x="871" y="157" width="1" height="6" fill="#a9c9d6" />
<rect x="870" y="163" width="3" height="4" fill="#53b987" />
<rect x="873" y="163" width="3" height="8" fill="#eb4d5c" />
<rect x="878" y="167" width="1" height="3" fill="#f5a6ae" />
<rect x="877" y="170" width="3" height="1" fill="#eb4d5c" />
<rect x="880" y="170" width="3" height="25" fill="#eb4d5c" />
<rect x="883" y="185" width="3" height="10" fill="#53b987" />
<rect x="886" y="185" width="3" height="9" fill="#eb4d5c" />
<rect x="890" y="169" width="1" height="2" fill="#a9c9d6" />
<rect x="889" y="171" width="3" height="23" fill="#53b987" />
<rect x="893" y="172" width="1" height="4" fill="#a9c9d6" />
<rect x="892" y="166" width="3" height="6" fill="#53b987" />
<rect x="897" y="150" width="1" height="8" fill="#a9c9d6" />
<rect x="896" y="158" width="3" height="9" fill="#53b987" />
<rect x="900" y="143" width="1" height="15" fill="#f5a6ae" />
<rect x="899" y="158" width="3" height="6" fill="#eb4d5c" />
<rect x="902" y="155" width="3" height="9" fill="#53b987" />
<rect x="905" y="154" width="3" height="2" fill="#53b987" />
<rect x="909" y="146" width="1" height="2" fill="#a9c9d6" />
<rect x="908" y="148" width="3" height="7" fill="#53b987" />
<rect x="912" y="148" width="3" height="11" fill="#eb4d5c" />
</g>
<line x1="7" y1="158.5" x2="1545" y2="158.5" stroke="#e8304a" stroke-width="1" stroke-dasharray="2.3 1.7"/>
<path d="M943.9,153.3 C945.0,154.2 948.1,156.2 950.4,158.4 C952.7,160.6 955.3,163.8 957.5,166.7 C959.7,169.5 961.6,172.3 963.4,175.5 C965.2,178.7 966.2,181.8 968.2,185.6 C970.2,189.4 972.9,194.1 975.3,198.1 C977.7,202.1 980.0,205.6 982.4,209.3 C984.8,213.1 987.1,216.9 989.5,220.6 C991.9,224.2 994.6,228.4 996.6,231.2 C998.6,234.0 999.8,235.6 1001.4,237.2 C1003.0,238.8 1004.5,240.1 1006.1,240.6 C1007.7,241.1 1009.2,240.8 1010.8,239.9 C1012.4,239.0 1014.0,237.3 1015.6,235.4 C1017.2,233.5 1018.7,231.2 1020.3,228.3 C1021.9,225.4 1023.4,222.6 1025.0,217.8 C1026.7,213.1 1028.5,205.8 1030.2,199.8 C1031.9,193.8 1033.6,187.1 1035.3,181.7 C1037.0,176.3 1038.8,171.5 1040.5,167.5 C1042.2,163.5 1044.1,160.3 1045.7,157.8 C1047.3,155.3 1048.8,153.7 1050.2,152.6 C1051.6,151.5 1052.7,151.4 1054.1,151.3 C1055.5,151.2 1057.0,151.3 1058.6,152.2 C1060.2,153.1 1062.1,154.6 1063.8,156.5 C1065.5,158.4 1067.3,161.0 1069.0,163.6 C1070.7,166.2 1072.4,169.5 1074.1,172.0 C1075.8,174.5 1077.7,176.8 1079.3,178.5 C1080.9,180.2 1082.4,181.3 1083.8,182.1 C1085.2,182.8 1086.3,183.0 1087.7,183.0 C1089.1,183.0 1090.7,182.8 1092.2,182.0 C1093.7,181.2 1095.2,180.1 1096.7,178.5 C1098.2,176.9 1099.8,175.0 1101.3,172.7 C1102.8,170.4 1104.3,167.6 1105.8,164.9 C1107.3,162.2 1108.7,159.7 1110.3,156.5 C1111.9,153.3 1113.8,148.9 1115.5,145.5 C1117.2,142.1 1119.4,138.5 1120.7,135.8 C1122.0,133.1 1121.8,132.2 1123.2,129.4 C1124.6,126.6 1127.2,122.7 1129.1,118.7 C1131.0,114.8 1132.6,109.9 1134.4,105.7 C1136.2,101.5 1137.9,97.8 1139.8,93.8 C1141.7,89.8 1143.6,85.7 1145.7,81.4 C1147.8,77.1 1151.3,70.1 1152.4,67.8" fill="none" stroke="#2a2a2a" stroke-width="1.9" stroke-linecap="round" stroke-linejoin="round"/>
<text x="12" y="62" font-family="'Roboto Condensed', 'Liberation Sans', Arial, sans-serif" font-size="14" fill="#5c5c5c" font-weight="bold" textLength="180" lengthAdjust="spacingAndGlyphs" >QASH/Bitcoin, 30, CoinMarketCap</text>
<text x="12" y="80.1" font-family="'Roboto Condensed', 'Liberation Sans', Arial, sans-serif" font-size="14" fill="#666" textLength="65.5" lengthAdjust="spacingAndGlyphs" >Volume (20)</text>
<g shape-rendering="crispEdges">
<rect x="7" y="593" width="1620" height="1" fill="#4a4a4a" />
<rect x="1545" y="42" width="1" height="830" fill="#4a4a4a" />
<rect x="7" y="871" width="1539" height="1" fill="#4a4a4a" />
<rect x="1546" y="61" width="3" height="1" fill="#4a4a4a" />
<rect x="1546" y="103" width="3" height="1" fill="#4a4a4a" />
<rect x="1546" y="144" width="3" height="1" fill="#4a4a4a" />
<rect x="1546" y="186" width="3" height="1" fill="#4a4a4a" />
<rect x="1546" y="227" width="3" height="1" fill="#4a4a4a" />
<rect x="1546" y="269" width="3" height="1" fill="#4a4a4a" />
<rect x="1546" y="310" width="3" height="1" fill="#4a4a4a" />
<rect x="1546" y="352" width="3" height="1" fill="#4a4a4a" />
<rect x="1546" y="393" width="3" height="1" fill="#4a4a4a" />
<rect x="1546" y="435" width="3" height="1" fill="#4a4a4a" />
<rect x="1546" y="476" width="3" height="1" fill="#4a4a4a" />
<rect x="1546" y="518" width="3" height="1" fill="#4a4a4a" />
<rect x="1546" y="559" width="3" height="1" fill="#4a4a4a" />
<rect x="1546" y="625" width="3" height="1" fill="#4a4a4a" />
<rect x="1546" y="661" width="3" height="1" fill="#4a4a4a" />
<rect x="1546" y="697" width="3" height="1" fill="#4a4a4a" />
<rect x="1546" y="732" width="3" height="1" fill="#4a4a4a" />
<rect x="1546" y="768" width="3" height="1" fill="#4a4a4a" />
<rect x="1546" y="803" width="3" height="1" fill="#4a4a4a" />
<rect x="1546" y="839" width="3" height="1" fill="#4a4a4a" />
<rect x="8" y="872" width="1" height="3" fill="#4a4a4a" />
<rect x="85" y="872" width="1" height="3" fill="#4a4a4a" />
<rect x="161" y="872" width="1" height="3" fill="#4a4a4a" />
<rect x="238" y="872" width="1" height="3" fill="#4a4a4a" />
<rect x="314" y="872" width="1" height="3" fill="#4a4a4a" />
<rect x="391" y="872" width="1" height="3" fill="#4a4a4a" />
<rect x="467" y="872" width="1" height="3" fill="#4a4a4a" />
<rect x="544" y="872" width="1" height="3" fill="#4a4a4a" />
<rect x="620" y="872" width="1" height="3" fill="#4a4a4a" />
<rect x="697" y="872" width="1" height="3" fill="#4a4a4a" />
<rect x="773" y="872" width="1" height="3" fill="#4a4a4a" />
<rect x="850" y="872" width="1" height="3" fill="#4a4a4a" />
<rect x="926" y="872" width="1" height="3" fill="#4a4a4a" />
<rect x="1003" y="872" width="1" height="3" fill="#4a4a4a" />
<rect x="1079" y="872" width="1" height="3" fill="#4a4a4a" />
<rect x="1156" y="872" width="1" height="3" fill="#4a4a4a" />
<rect x="1232" y="872" width="1" height="3" fill="#4a4a4a" />
</g>
<text x="1552" y="65.7" font-family="'Liberation Sans', Arial, sans-serif" font-size="11" fill="#505050" stroke="#505050" stroke-width="0.22">0.0000320000</text>
<text x="1552" y="107.7" font-family="'Liberation Sans', Arial, sans-serif" font-size="11" fill="#505050" stroke="#505050" stroke-width="0.22">0.0000310000</text>
<text x="1552" y="148.7" font-family="'Liberation Sans', Arial, sans-serif" font-size="11" fill="#505050" stroke="#505050" stroke-width="0.22">0.0000300000</text>
<text x="1552" y="190.7" font-family="'Liberation Sans', Arial, sans-serif" font-size="11" fill="#505050" stroke="#505050" stroke-width="0.22">0.0000290000</text>
<text x="1552" y="231.7" font-family="'Liberation Sans', Arial, sans-serif" font-size="11" fill="#505050" stroke="#505050" stroke-width="0.22">0.0000280000</text>
<text x="1552" y="273.7" font-family="'Liberation Sans', Arial, sans-serif" font-size="11" fill="#505050" stroke="#505050" stroke-width="0.22">0.0000270000</text>
<text x="1552" y="314.7" font-family="'Liberation Sans', Arial, sans-serif" font-size="11" fill="#505050" stroke="#505050" stroke-width="0.22">0.0000260000</text>
<text x="1552" y="356.7" font-family="'Liberation Sans', Arial, sans-serif" font-size="11" fill="#505050" stroke="#505050" stroke-width="0.22">0.0000250000</text>
<text x="1552" y="397.7" font-family="'Liberation Sans', Arial, sans-serif" font-size="11" fill="#505050" stroke="#505050" stroke-width="0.22">0.0000240000</text>
<text x="1552" y="439.7" font-family="'Liberation Sans', Arial, sans-serif" font-size="11" fill="#505050" stroke="#505050" stroke-width="0.22">0.0000230000</text>
<text x="1552" y="480.7" font-family="'Liberation Sans', Arial, sans-serif" font-size="11" fill="#505050" stroke="#505050" stroke-width="0.22">0.0000220000</text>
<text x="1552" y="522.7" font-family="'Liberation Sans', Arial, sans-serif" font-size="11" fill="#505050" stroke="#505050" stroke-width="0.22">0.0000210000</text>
<text x="1552" y="563.7" font-family="'Liberation Sans', Arial, sans-serif" font-size="11" fill="#505050" stroke="#505050" stroke-width="0.22">0.0000200000</text>
<text x="1552" y="629.7" font-family="'Liberation Sans', Arial, sans-serif" font-size="11" fill="#505050" stroke="#505050" stroke-width="0.22">90.0000</text>
<text x="1552" y="665.7" font-family="'Liberation Sans', Arial, sans-serif" font-size="11" fill="#505050" stroke="#505050" stroke-width="0.22">80.0000</text>
<text x="1552" y="701.7" font-family="'Liberation Sans', Arial, sans-serif" font-size="11" fill="#505050" stroke="#505050" stroke-width="0.22">70.0000</text>
<text x="1552" y="736.7" font-family="'Liberation Sans', Arial, sans-serif" font-size="11" fill="#505050" stroke="#505050" stroke-width="0.22">60.0000</text>
<text x="1552" y="772.7" font-family="'Liberation Sans', Arial, sans-serif" font-size="11" fill="#505050" stroke="#505050" stroke-width="0.22">50.0000</text>
<text x="1552" y="807.7" font-family="'Liberation Sans', Arial, sans-serif" font-size="11" fill="#505050" stroke="#505050" stroke-width="0.22">40.0000</text>
<text x="1552" y="843.7" font-family="'Liberation Sans', Arial, sans-serif" font-size="11" fill="#505050" stroke="#505050" stroke-width="0.22">30.0000</text>
<rect x="1546" y="150" width="81" height="17" fill="#e8475b" shape-rendering="crispEdges"/>
<text x="1552" y="162" font-family="'Liberation Sans', Arial, sans-serif" font-size="11" fill="#ffffff" textLength="67" lengthAdjust="spacingAndGlyphs" stroke="#ffffff" stroke-width="0.25">0.0000296600</text>
<g clip-path="url(#cr)">
<rect x="7" y="698" width="1537" height="141" fill="rgb(147,55,163)" fill-opacity="0.13"/>
<line x1="7" y1="697.5" x2="1544" y2="697.5" stroke="#756c70" stroke-width="1" stroke-dasharray="6 5" shape-rendering="crispEdges"/>
<line x1="7" y1="839.5" x2="1544" y2="839.5" stroke="#756c70" stroke-width="1" stroke-dasharray="6 5" shape-rendering="crispEdges"/>
<polyline points="7.0,760.2 10.3,779.2 13.5,767.4 17.6,770.3 20.6,766.1 23.5,788.4 26.4,764.5 29.4,767.4 33.0,763.0 36.3,757.6 39.4,748.0 42.6,742.1 45.5,737.3 49.2,753.2 52.6,768.3 55.5,769.6 58.8,764.2 61.7,759.0 64.6,758.3 68.3,761.5 71.5,786.9 74.5,770.1 77.4,738.5 79.3,690.0 80.6,631.4 84.9,662.3 85.2,690.0 87.4,779.6 90.3,777.8 93.6,776.4 96.5,752.0 99.9,758.3 103.6,756.4 106.8,784.0 109.7,795.5 112.7,795.2 115.6,782.5 119.3,780.3 122.6,784.4 125.6,779.2 128.8,781.4 131.5,763.7 135.4,782.2 138.4,769.6 141.3,771.1 144.7,761.7 147.6,760.5 150.6,778.6 154.2,771.5 157.5,772.5 160.8,762.3 163.8,759.3 166.7,761.5 170.4,773.4 175.5,779.2 179.5,781.8 182.6,754.6 186.3,763.9 189.5,774.5 192.4,771.5 195.7,776.4 198.6,772.5 202.7,795.5 205.3,792.8 208.6,770.1 211.5,767.1 214.5,756.8 217.7,780.8 224.0,765.6 230.3,755.4 233.7,767.8 237.3,760.4 240.3,758.2 243.5,728.4 246.5,728.4 249.4,675.3 253.5,680.4 256.4,678.5 259.4,685.5 265.3,682.6 268.5,679.4 272.6,684.4 275.5,678.5 278.5,681.9 281.4,690.4 284.3,690.7 288.8,694.1 291.7,703.9 294.6,730.8 300.5,712.3 304.5,709.3 307.4,725.2 308.8,784.0 310.3,838.4 313.5,841.6 316.4,844.6 319.4,839.9 323.5,844.6 326.4,855.7 329.4,850.5 332.6,850.2 335.5,837.2 339.5,840.6 342.6,836.2 348.8,838.7 354.6,838.1 358.3,839.4 361.5,828.1 364.5,829.2 367.4,816.4 371.5,795.5 374.5,806.4 377.4,765.7 380.6,776.0 386.2,778.5 390.6,787.7 393.6,767.2 396.8,763.5 399.7,759.1 402.7,757.2 406.8,758.4 409.3,780.0 412.6,768.6 415.3,750.0 418.5,787.3 422.2,775.5 425.1,773.5 428.4,775.5 431.7,773.5 434.7,780.8 441.6,759.8 444.5,777.5 447.5,759.1 453.8,765.7 457.4,745.9 460.4,766.1 463.4,757.8 466.8,744.0 470.3,739.6 476.2,735.2 479.4,725.4 482.5,731.5 485.7,727.1 488.6,708.0 492.3,699.9 495.3,689.4 498.5,689.4 501.6,732.0 504.5,710.2 508.5,716.1 511.4,722.0 514.3,736.7 517.6,763.1 520.5,738.9 524.6,750.2 530.5,755.5 533.4,738.6 536.4,741.4 540.5,737.7 543.4,746.5 546.7,742.5 549.6,751.1 552.5,708.5 555.8,732.3 559.6,732.3 562.5,767.5 565.8,717.6 568.7,696.7 571.6,743.3 575.3,718.3 578.7,711.0 581.6,746.2 584.6,684.5 587.5,687.2 591.5,685.3 594.4,686.7 597.6,699.6 603.2,694.8 606.9,688.2 610.4,676.4 613.4,641.3 616.5,638.2 619.5,674.4 622.5,674.4 626.5,665.8 629.7,699.5 632.6,699.5 635.5,693.3 638.8,699.9 642.7,666.8 651.6,633.9 654.6,613.2 657.4,608.5 661.5,608.5 667.7,615.7 672.5,614.0 677.4,612.2 680.4,610.5 683.4,646.9 686.8,675.8 689.6,674.5 693.4,725.3 696.4,724.5 699.5,748.7 702.5,741.4 705.7,756.8 709.4,744.3 712.5,765.6 715.4,751.6 718.5,780.5 721.6,766.3 724.7,766.3 728.4,768.4 731.4,761.4 734.5,736.9 737.4,728.6 740.7,728.6 744.6,740.3 747.6,737.7 750.5,748.4 753.5,747.7 760.6,754.6 763.4,762.2 766.5,776.6 769.4,774.5 772.4,761.0 775.5,742.1 779.5,752.5 782.4,743.7 785.5,739.9 788.7,747.2 791.4,756.6 795.3,763.9 801.3,789.1 804.3,780.5 807.5,748.4 811.4,755.6 814.5,765.5 817.6,760.6 820.7,739.9 823.7,733.3 826.6,734.0 829.8,721.5 833.5,705.4 836.6,713.1 839.5,715.6 842.8,720.5 845.7,682.6 849.7,651.0 852.3,664.2 855.5,689.2 858.5,667.9 862.3,676.7 865.5,735.5 868.5,713.4 871.7,711.5 874.6,718.3 878.5,718.6 881.4,740.6 884.3,734.7 887.6,742.8 890.8,728.1 897.5,719.8 900.5,725.2 903.7,719.8 906.7,719.3 909.9,714.6 913.7,728.6" fill="none" stroke="#a64bb3" stroke-width="1.1" stroke-linejoin="round"/>
</g>
<text x="12.2" y="614.1" font-family="'Roboto Condensed', 'Liberation Sans', Arial, sans-serif" font-size="14" fill="#666" textLength="43.5" lengthAdjust="spacingAndGlyphs" >RSI (14)</text>
<circle cx="36.5" cy="839.8" r="16.2" fill="#ffffff" stroke="#ebe5ec" stroke-width="1"/>
<path d="M28.6,845.7 C24.8,845.7 24.6,838.3 29.9,838.3 C30.2,831.6 38.6,831.2 40.6,836.2 C43.6,834.6 46.6,837.3 45.6,839.6 C48.9,840.3 48.4,845.7 45,845.7 Z" fill="#37a6ef"/>
<polyline points="26.6,843.4 33.7,837.7 39.1,842.9 44.5,837.7" fill="none" stroke="#ffffff" stroke-width="1.4"/>
<circle cx="33.7" cy="837.7" r="1.3" fill="#fff"/><circle cx="39.1" cy="842.9" r="1.3" fill="#fff"/>
<text x="63.8" y="845.7" font-family="'Liberation Sans', Arial, sans-serif" font-size="14" fill="#37a6ef" textLength="135" lengthAdjust="spacingAndGlyphs" stroke="#ffffff" stroke-width="3" stroke-linejoin="round" paint-order="stroke">Chart by TradingView</text>
<g clip-path="url(#ct)">
<text x="8.5" y="889" font-family="'Liberation Sans', Arial, sans-serif" font-size="11" fill="#505050" text-anchor="middle" stroke="#505050" stroke-width="0.22">12:00</text>
<text x="85" y="889" font-family="'Liberation Sans', Arial, sans-serif" font-size="11" fill="#505050" font-weight="bold" text-anchor="middle" stroke="#505050" stroke-width="0.22">18</text>
<text x="161.5" y="889" font-family="'Liberation Sans', Arial, sans-serif" font-size="11" fill="#505050" text-anchor="middle" stroke="#505050" stroke-width="0.22">12:00</text>
<text x="238" y="889" font-family="'Liberation Sans', Arial, sans-serif" font-size="11" fill="#505050" font-weight="bold" text-anchor="middle" stroke="#505050" stroke-width="0.22">19</text>
<text x="314.5" y="889" font-family="'Liberation Sans', Arial, sans-serif" font-size="11" fill="#505050" text-anchor="middle" stroke="#505050" stroke-width="0.22">12:00</text>
<text x="391" y="889" font-family="'Liberation Sans', Arial, sans-serif" font-size="11" fill="#505050" font-weight="bold" text-anchor="middle" stroke="#505050" stroke-width="0.22">20</text>
<text x="467.5" y="889" font-family="'Liberation Sans', Arial, sans-serif" font-size="11" fill="#505050" text-anchor="middle" stroke="#505050" stroke-width="0.22">12:00</text>
<text x="544" y="889" font-family="'Liberation Sans', Arial, sans-serif" font-size="11" fill="#505050" font-weight="bold" text-anchor="middle" stroke="#505050" stroke-width="0.22">21</text>
<text x="620.5" y="889" font-family="'Liberation Sans', Arial, sans-serif" font-size="11" fill="#505050" text-anchor="middle" stroke="#505050" stroke-width="0.22">12:00</text>
<text x="697" y="889" font-family="'Liberation Sans', Arial, sans-serif" font-size="11" fill="#505050" font-weight="bold" text-anchor="middle" stroke="#505050" stroke-width="0.22">22</text>
<text x="773.5" y="889" font-family="'Liberation Sans', Arial, sans-serif" font-size="11" fill="#505050" text-anchor="middle" stroke="#505050" stroke-width="0.22">12:00</text>
<text x="850" y="889" font-family="'Liberation Sans', Arial, sans-serif" font-size="11" fill="#505050" font-weight="bold" text-anchor="middle" stroke="#505050" stroke-width="0.22">23</text>
<text x="926.5" y="889" font-family="'Liberation Sans', Arial, sans-serif" font-size="11" fill="#505050" text-anchor="middle" stroke="#505050" stroke-width="0.22">12:00</text>
<text x="1003" y="889" font-family="'Liberation Sans', Arial, sans-serif" font-size="11" fill="#505050" font-weight="bold" text-anchor="middle" stroke="#505050" stroke-width="0.22">24</text>
<text x="1079.5" y="889" font-family="'Liberation Sans', Arial, sans-serif" font-size="11" fill="#505050" text-anchor="middle" stroke="#505050" stroke-width="0.22">12:00</text>
<text x="1156" y="889" font-family="'Liberation Sans', Arial, sans-serif" font-size="11" fill="#505050" font-weight="bold" text-anchor="middle" stroke="#505050" stroke-width="0.22">25</text>
<text x="1232.5" y="889" font-family="'Liberation Sans', Arial, sans-serif" font-size="11" fill="#505050" text-anchor="middle" stroke="#505050" stroke-width="0.22">12:00</text>
</g>
<text x="7.7" y="918.6" font-family="Roboto, 'Liberation Sans', Arial, sans-serif" font-size="15.4" fill="#111" textLength="221.5" lengthAdjust="spacingAndGlyphs" >Created on charts.cointrader.pro</text>
</svg>
</body></html>
